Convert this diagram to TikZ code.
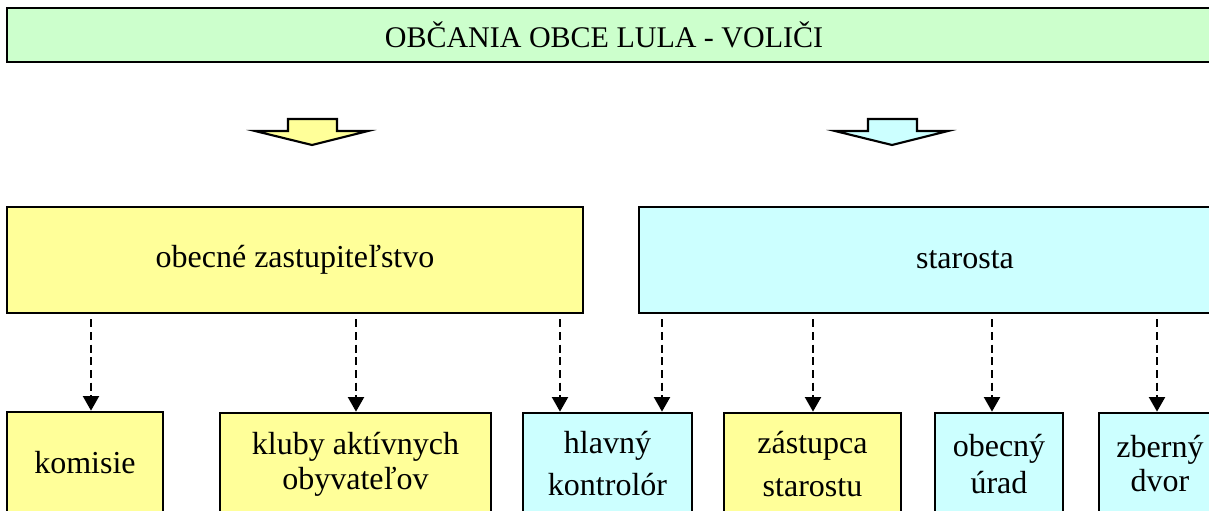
\documentclass[tikz,border=0pt]{standalone}
\usepackage{fontspec}
\setmainfont{Liberation Serif}
\usetikzlibrary{arrows.meta}
\definecolor{fgreen}{HTML}{CCFFCC}
\definecolor{fyellow}{HTML}{FFFF99}
\definecolor{fcyan}{HTML}{CCFFFF}
\begin{document}
\begin{tikzpicture}[x=0.75pt,y=-0.75pt,
  box/.style={draw=black,line width=2pt,rectangle,inner sep=0pt,align=center,
    font=\fontsize{24}{27.75}\selectfont},
  lbl/.style={inner sep=0pt,align=center,font=\fontsize{22.5}{27}\selectfont},
  conn/.style={line width=1.7pt,dash pattern=on 6pt off 3.5pt,
    -{Triangle[width=12pt,length=11pt]},shorten <=3.75pt},
  blockarrow/.style={draw=black,line width=1.6pt,line join=miter}]
\useasboundingbox (0,0) rectangle (1209,510);
\clip (0,0) rectangle (1209,510);

% top box
\node[box,fill=fgreen,minimum width=909.75pt,minimum height=40.5pt] (top) at (613.5,35) {};
\node[lbl] (toptxt) at (604,35) {OBČANIA OBCE LULA - VOLIČI};

% block arrows
\draw[blockarrow,fill=fyellow] (288,119) -- (337,119) -- (337,131) -- (368,131) -- (312,145) -- (255,131) -- (288,131) -- cycle;
\draw[blockarrow,fill=fcyan] (868,119) -- (917,119) -- (917,131) -- (948,131) -- (892,145) -- (835,131) -- (868,131) -- cycle;

% big boxes
\node[box,fill=fyellow,minimum width=432pt,minimum height=79.5pt] (zast) at (295,260) {obecné zastupiteľstvo};
\node[box,fill=fcyan,minimum width=489pt,minimum height=79.5pt] (star) at (965,260) {starosta};

% bottom boxes
\node[box,fill=fyellow,minimum width=117pt,minimum height=76.5pt] (komisie) at (85,463) {komisie};
\node[box,fill=fyellow,minimum width=203.25pt,minimum height=76.5pt,
  font=\fontsize{24}{26.25}\selectfont] (kluby) at (355.5,464) {kluby aktívnych\\obyvateľov};
\node[box,fill=fcyan,minimum width=126.75pt,minimum height=76.5pt,
  font=\fontsize{24}{31.5}\selectfont] (hlavny) at (607.5,464) {hlavný\\kontrolór};
\node[box,fill=fyellow,minimum width=132.75pt,minimum height=76.5pt,
  font=\fontsize{24}{32.25}\selectfont] (zastupca) at (812.5,464) {zástupca\\starostu};
\node[box,fill=fcyan,minimum width=96pt,minimum height=76.5pt,
  font=\fontsize{24}{27.75}\selectfont] (urad) at (999,464) {obecný\\úrad};
\node[box,fill=fcyan,minimum width=91.5pt,minimum height=76.5pt,
  font=\fontsize{24}{25.5}\selectfont] (dvor) at (1160,464) {zberný\\dvor};

% connector x positions
\coordinate (x1) at (91,0);
\coordinate (x2) at (356,0);
\coordinate (x3) at (560,0);
\coordinate (x4) at (662,0);
\coordinate (x5) at (813,0);
\coordinate (x6) at (992,0);
\coordinate (x7) at (1157,0);

\draw[conn] (zast.south -| x1) -- (komisie.north -| x1);
\draw[conn] (zast.south -| x2) -- (kluby.north -| x2);
\draw[conn] (zast.south -| x3) -- (hlavny.north -| x3);
\draw[conn] (star.south -| x4) -- (hlavny.north -| x4);
\draw[conn] (star.south -| x5) -- (zastupca.north -| x5);
\draw[conn] (star.south -| x6) -- (urad.north -| x6);
\draw[conn] (star.south -| x7) -- (dvor.north -| x7);
\end{tikzpicture}
\end{document}
